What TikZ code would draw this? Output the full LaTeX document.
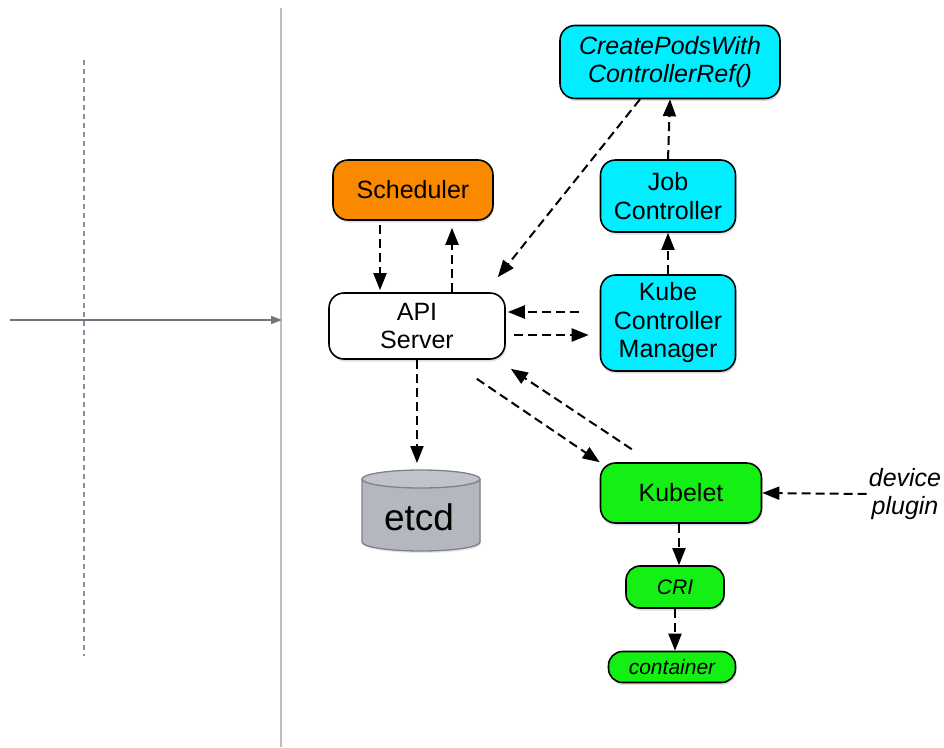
\documentclass[tikz,border=0pt]{standalone}
\usepackage{fontspec}
\setmainfont{Liberation Sans}
\usetikzlibrary{arrows.meta,shadows,calc}
\definecolor{cyanbox}{RGB}{0,238,255}
\definecolor{orangebox}{RGB}{250,137,0}
\definecolor{greenbox}{RGB}{20,240,20}
\definecolor{etcdfill}{RGB}{180,184,190}
\definecolor{etcdtopc}{RGB}{192,196,201}
\definecolor{etcdline}{RGB}{125,130,138}
\definecolor{axisgray}{RGB}{110,118,128}
\definecolor{lightline}{RGB}{190,190,190}
\begin{document}
\begin{tikzpicture}[x=1pt,y=-1pt,
  box/.style={draw=black,line width=1.6pt,rounded corners=15pt,align=center,
    inner sep=0pt,font=\fontsize{25}{28.5}\selectfont,
    drop shadow={shadow xshift=1pt,shadow yshift=-2.5pt,opacity=0.25}},
  small/.style={box,rounded corners=14pt,font=\fontsize{21}{24}\selectfont\itshape},
  arr/.style={draw=black,line width=2pt,dash pattern=on 9pt off 5pt,
    -{Triangle[length=17pt,width=13pt]}},
  lbl/.style={align=center,font=\fontsize{25}{28.5}\selectfont\itshape,inner sep=0pt}]
\useasboundingbox (0,0) rectangle (944,747);
% left part
\draw[lightline,line width=1.5pt] (281,8) -- (281,747);
\draw[axisgray!80,line width=1.8pt,dash pattern=on 5pt off 4pt] (84,60) -- (84,656);
\coordinate (axl) at (10,320);
\coordinate (axr) at (282,320);
\draw[axisgray,line width=1.8pt,-{Triangle[length=11pt,width=8pt]}] (axl) -- (axr);
% nodes
\node[box,fill=cyanbox,minimum width=220,minimum height=73,font=\fontsize{25}{28.5}\selectfont\itshape] (create) at (670,62) {CreatePodsWith\\ControllerRef()};
\node[box,fill=orangebox,minimum width=160,minimum height=60] (sched) at (413,190) {Scheduler};
\node[box,fill=cyanbox,minimum width=135,minimum height=72] (job) at (668,196) {Job\\Controller};
\node[box,fill=white,minimum width=176,minimum height=66] (api) at (417,326) {API\\Server};
\node[box,fill=cyanbox,minimum width=135,minimum height=96] (kcm) at (668,323) {Kube\\Controller\\Manager};
\node[box,fill=greenbox,minimum width=161,minimum height=60] (kubelet) at (681,493) {Kubelet};
\node[small,fill=greenbox,minimum width=98,minimum height=42] (cri) at (675,587) {CRI};
\node[small,fill=greenbox,minimum width=127,minimum height=31] (container) at (672,667) {container};
\node[lbl] (device) at (905,494) {device\\plugin};
% etcd cylinder
\fill[etcdfill,drop shadow={shadow xshift=1pt,shadow yshift=-2pt,opacity=0.2}] (362,479) -- (362,542) arc[start angle=180,end angle=360,x radius=59,y radius=-9] -- (480,479) arc[start angle=0,end angle=180,x radius=59,y radius=-9] -- cycle;
\draw[etcdline,line width=1.3pt] (362,479) -- (362,542) arc[start angle=180,end angle=360,x radius=59,y radius=-9] -- (480,479);
\draw[etcdline,fill=etcdtopc,line width=1.3pt] (421,479) ellipse[x radius=59,y radius=9];
\node[inner sep=0pt,font=\fontsize{37}{40}\selectfont] (etcd) at (419,517) {etcd};
\coordinate (etcdtop) at (417,463);
% connectors
\coordinate (s1) at ([xshift=-33pt]sched.south);
\draw[arr,shorten <=4pt,shorten >=2pt] (s1) -- (s1 |- api.north);
\coordinate (a1) at ([xshift=35pt]api.north);
\draw[arr,shorten >=7pt] (a1) -- (a1 |- sched.south);
\coordinate (c1) at ([xshift=-30pt]create.south);
\coordinate (a2) at ([xshift=-8pt,yshift=15pt]api.north east);
\draw[arr] (c1) -- (a2);
\draw[arr] (job.north) -- (create.south);
\draw[arr] (kcm.north) -- (job.south);
\coordinate (k1) at ([yshift=11pt]kcm.west);
\draw[arr,shorten <=21pt,shorten >=2pt] (k1) -- (k1 -| api.east);
\coordinate (k2) at ([yshift=-12pt]kcm.west);
\draw[arr,shorten <=8pt,shorten >=11pt] (k2 -| api.east) -- (k2);
\coordinate (a3) at ([xshift=-29pt,yshift=-19pt]api.south east);
\draw[arr] (a3) -- (kubelet.north west);
\coordinate (kb1) at ([xshift=32pt,yshift=13pt]kubelet.north west);
\coordinate (a4) at ([xshift=5pt,yshift=-9pt]api.south east);
\draw[arr] (kb1) -- (a4);
\draw[arr] (api.south) -- (etcdtop);
\draw[arr,shorten <=2pt] (device.west) -- (kubelet.east);
\coordinate (kb2) at ([xshift=-2pt]kubelet.south);
\draw[arr] (kb2) -- (kb2 |- cri.north);
\coordinate (cr1) at (cri.south);
\draw[arr] (cr1) -- (cr1 |- container.north);
\end{tikzpicture}
\end{document}
